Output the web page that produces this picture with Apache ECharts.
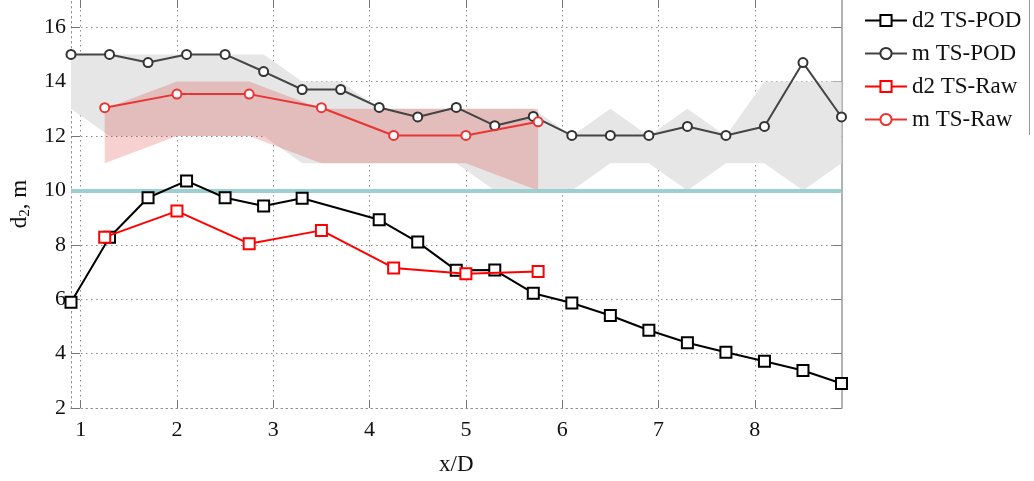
<!DOCTYPE html>
<html><head><meta charset="utf-8">
<script src="https://cdn.jsdelivr.net/npm/echarts@6/dist/echarts.min.js"></script>
<style>html,body{margin:0;padding:0;background:#fff}#c{width:1034px;height:481px}</style>
</head><body><div id="c"></div>
<script>
// x positions
const xPod   = [0.9,1.3,1.7,2.1,2.5,2.9,3.3,3.7,4.1,4.5,4.9,5.3,5.7,6.1,6.5,6.9,7.3,7.7,8.1,8.5,8.9];
const xPodD2 = [0.9,1.3,1.7,2.1,2.5,2.9,3.3,4.1,4.5,4.9,5.3,5.7,6.1,6.5,6.9,7.3,7.7,8.1,8.5,8.9];
const xRaw   = [1.25,2.0,2.75,3.5,4.25,5.0,5.75];
// series values
const d2Pod = [5.89,8.28,9.73,10.35,9.73,9.43,9.71,8.92,8.10,7.06,7.07,6.22,5.86,5.40,4.86,4.40,4.05,3.72,3.38,2.90];
const mPod  = [15.0,15.0,14.7,15.0,15.0,14.37,13.71,13.71,13.05,12.70,13.05,12.38,12.72,12.02,12.02,12.02,12.35,12.02,12.35,14.7,12.7];
const podUpper = [15,15,15,15,15,15,14,14,13,13,13,13,13,12,13,12,13,12,14,14,14];
const podLower = [13,12,12,12,12,12,11,11,11,11,11,10,10,10,11,11,10,11,11,10,11];
const d2Raw = [8.28,9.24,8.04,8.53,7.15,6.94,7.02];
const mRaw  = [13.04,13.54,13.54,13.04,12.02,12.02,12.52];
const rawUpper = [13,14,14,13,13,13,13];
const rawLower = [11,12,12,11,11,11,10];
const refValue = 10;
// tick labels
const xTicks = [1,2,3,4,5,6,7,8];
const yTicks = [2,4,6,8,10,12,14,16];
const names = ['d2 TS-POD','m TS-POD','d2 TS-Raw','m TS-Raw'];

const zip = (xs, ys) => xs.map((x,i)=>[x, ys[i]]);

const FONT = 'Liberation Serif';
const gridDot = {color:'#8c8c8c', width:1, type:[1.5,3.5]};
const tickStyle = {color:'#777', width:1};

// band polygon drawn through the axes' scales
function bandSeries(name, xs, up, low, fill, z){
  return {
    name:name, type:'custom', silent:true, z:z,
    data:[[xs[0], up[0]]],
    renderItem:function(params, api){
      const pts = [];
      for (let i=0;i<xs.length;i++) pts.push(api.coord([xs[i], up[i]]));
      for (let i=xs.length-1;i>=0;i--) pts.push(api.coord([xs[i], low[i]]));
      return {type:'polygon', shape:{points:pts}, style:{fill:fill, stroke:null}};
    }
  };
}

const chart = echarts.init(document.getElementById('c'), null, {renderer:'canvas'});
chart.setOption({
  animation:false,
  backgroundColor:'#fff',
  grid:{left:71, right:192.5, top:0, bottom:73, outerBoundsMode:'none', containLabel:false},
  xAxis:[{
    type:'value', min:0.9, max:8.9, position:'bottom',
    axisLine:{show:true, lineStyle:{color:'#8c8c8c', type:[1.5,3.5]}},
    axisTick:{show:true, inside:true, length:8, customValues:xTicks, lineStyle:tickStyle},
    axisLabel:{customValues:xTicks, fontFamily:FONT, fontSize:22, color:'#111', margin:11},
    splitLine:{show:true, lineStyle:gridDot},
    name:'x/D', nameLocation:'middle', nameGap:45,
    nameTextStyle:{fontFamily:FONT, fontSize:23, color:'#111'}
  },{
    type:'value', min:0.9, max:8.9, position:'top',
    axisLine:{show:false},
    axisTick:{show:true, inside:true, length:8, customValues:xTicks, lineStyle:tickStyle},
    axisLabel:{show:false}, splitLine:{show:false}
  }],
  yAxis:[{
    type:'value', min:2, max:17, position:'left',
    axisLine:{show:true, lineStyle:{color:'#8c8c8c', type:[1.5,3.5]}},
    axisTick:{show:true, inside:true, length:9, customValues:yTicks, lineStyle:tickStyle},
    axisLabel:{customValues:yTicks, fontFamily:FONT, fontSize:22, color:'#111', margin:5},
    splitLine:{show:true, lineStyle:gridDot},
    name:'{a|d}{s|2}{a|, m}', nameLocation:'middle', nameGap:38,
    nameTextStyle:{fontFamily:FONT, fontSize:23, color:'#111',
      rich:{a:{fontFamily:FONT, fontSize:23, color:'#111', lineHeight:26},
            s:{fontFamily:FONT, fontSize:15, color:'#111', lineHeight:12, verticalAlign:'bottom'}}}
  },{
    type:'value', min:2, max:17, position:'right',
    axisLine:{show:true, lineStyle:{color:'#999', width:1.5}},
    axisTick:{show:true, inside:true, length:9, customValues:yTicks, lineStyle:tickStyle},
    axisLabel:{show:false}, splitLine:{show:false}
  }],
  legend:{
    data:names, orient:'vertical', left:864, top:9, padding:0,
    itemWidth:42, itemHeight:14, itemGap:10,
    textStyle:{fontFamily:FONT, fontSize:23, color:'#111'}
  },
  graphic:[{type:'line', shape:{x1:1029.5, y1:0, x2:1029.5, y2:135}, style:{stroke:'#999', lineWidth:1}, silent:true}],
  series:[
    bandSeries('podBand', xPod, podUpper, podLower, '#e6e6e6', 1),
    bandSeries('rawBand', xRaw, rawUpper, rawLower, 'rgba(215,20,20,0.2)', 2),
    {name:'ref', type:'line', data:[], silent:true, z:3,
     markLine:{silent:true, symbol:'none', label:{show:false},
       lineStyle:{color:'#9ccfcf', width:4, type:'solid'}, data:[{yAxis:refValue}]}},
    {name:'m TS-POD', type:'line', data:zip(xPod,mPod), symbol:'emptyCircle', symbolSize:9,
     lineStyle:{color:'#444', width:2}, itemStyle:{color:'#333', borderWidth:2}, z:5},
    {name:'d2 TS-POD', type:'line', data:zip(xPodD2,d2Pod), symbol:'emptyRect', symbolSize:11,
     lineStyle:{color:'#000', width:2}, itemStyle:{color:'#000', borderWidth:2}, z:6},
    {name:'m TS-Raw', type:'line', data:zip(xRaw,mRaw), symbol:'emptyCircle', symbolSize:9,
     lineStyle:{color:'#ea3434', width:2}, itemStyle:{color:'#ea3434', borderWidth:2}, z:7},
    {name:'d2 TS-Raw', type:'line', data:zip(xRaw,d2Raw), symbol:'emptyRect', symbolSize:11,
     lineStyle:{color:'#ff0000', width:2}, itemStyle:{color:'#ff0000', borderWidth:2}, z:7}
  ]
});
</script></body></html>
